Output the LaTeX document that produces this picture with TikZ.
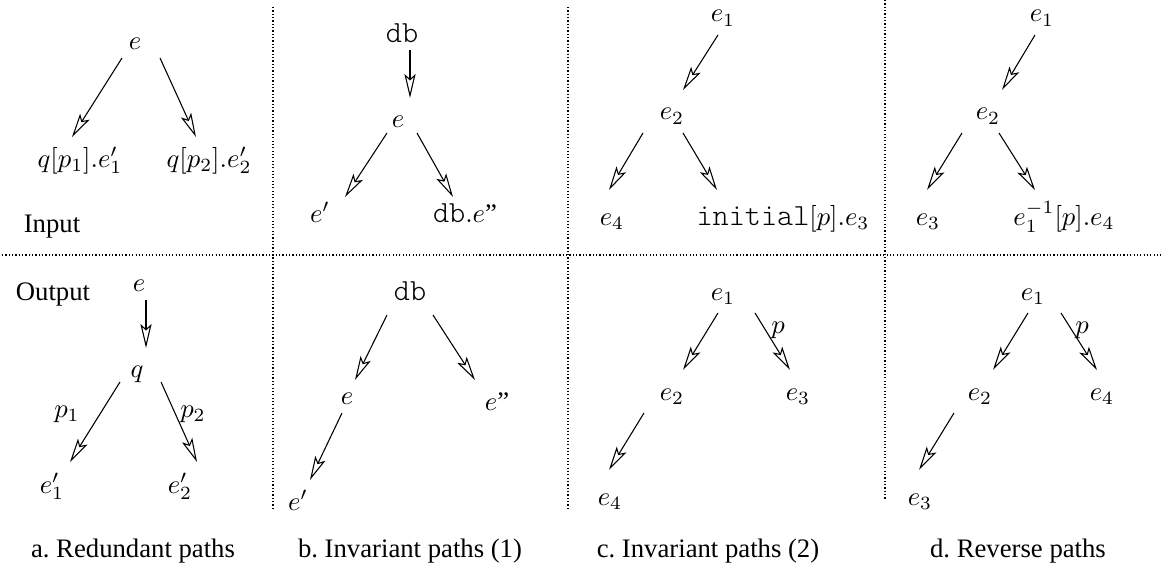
\documentclass[tikz,border=0pt]{standalone}
\usepackage{fontspec}
\setmainfont{Liberation Serif}
\setmonofont{lmmonolt10-regular.otf}[Scale=1.15]
\usetikzlibrary{arrows.meta}
\tikzset{
  lbl/.style={inner sep=0pt, anchor=base, font=\fontsize{10pt}{12pt}\selectfont},
  arr/.style={line width=0.4pt, -{Stealth[open, length=9pt, width=4.2pt, inset=1.9pt]}},
  sep/.style={line width=0.45pt, dash pattern=on 0.45pt off 0.8pt},
}
\begin{document}
\begin{tikzpicture}[x=0.3745pt, y=-0.3745pt]
\useasboundingbox (0,0) rectangle (1164,565);

% separators
\coordinate (hl) at (2,255);
\coordinate (hr) at (1164,255);
\coordinate (v1t) at (273,7);
\coordinate (v1b) at (273,508);
\coordinate (v2t) at (568,7);
\coordinate (v2b) at (568,508);
\coordinate (v3t) at (885,0);
\coordinate (v3b) at (885,500);
\draw[sep] (hl) -- (hr);
\draw[sep] (v1t) -- (v1b);
\draw[sep] (v2t) -- (v2b);
\draw[sep] (v3t) -- (v3b);

% ---------- panel a, input ----------
\node[lbl] (aE)  at (135,50)  {$e$};
\node[lbl] (aQ1) at (80,167)  {$q[p_1].e'_1$};
\node[lbl] (aQ2) at (209,167) {$q[p_2].e'_2$};
\node[lbl] (inp) at (52,232)  {Input};
\draw[arr] ([shift={(-13,8)}]aE.base) -- ([shift={(-8,-30)}]aQ1.base);
\draw[arr] ([shift={(25,8)}]aE.base) -- ([shift={(-13,-30)}]aQ2.base);

% ---------- panel b, input ----------
\node[lbl] (bDB) at (402,43)  {\texttt{db}};
\node[lbl] (bE)  at (398,127) {$e$};
\node[lbl] (bE1) at (320,222) {$e'$};
\node[lbl] (bE2) at (465,222) {\texttt{db}$.e$''};
\draw[arr] ([shift={(8,7)}]bDB.base) -- ([shift={(12,-29)}]bE.base);
\draw[arr] ([shift={(-11,6)}]bE.base) -- ([shift={(25,-25)}]bE1.base);
\draw[arr] ([shift={(19,6)}]bE.base) -- ([shift={(-12,-25)}]bE2.base);

% ---------- panel c, input ----------
\node[lbl] (cE1) at (723,22)  {$e_1$};
\node[lbl] (cE2) at (672,120) {$e_2$};
\node[lbl] (cE4) at (612,225) {$e_4$};
\node[lbl] (cI)  at (783,225) {$\texttt{initial}[p].e_3$};
\draw[arr] ([shift={(-5,13)}]cE1.base) -- ([shift={(11,-30)}]cE2.base);
\draw[arr] ([shift={(-29,13)}]cE2.base) -- ([shift={(-3,-35)}]cE4.base);
\draw[arr] ([shift={(11,13)}]cE2.base) -- ([shift={(-66,-35)}]cI.base);

% ---------- panel d, input ----------
\node[lbl] (dE1) at (1042,22)  {$e_1$};
\node[lbl] (dE2) at (988,120)  {$e_2$};
\node[lbl] (dE3) at (928,225)  {$e_3$};
\node[lbl] (dR)  at (1064,225) {$e_1^{-1}[p].e_4$};
\draw[arr] ([shift={(-7,13)}]dE1.base) -- ([shift={(14,-30)}]dE2.base);
\draw[arr] ([shift={(-26,13)}]dE2.base) -- ([shift={(-1,-35)}]dE3.base);
\draw[arr] ([shift={(11,13)}]dE2.base) -- ([shift={(-29,-35)}]dR.base);

% ---------- panel a, output ----------
\node[lbl] (outp) at (53,300)  {Output};
\node[lbl] (aoE)  at (139,291) {$e$};
\node[lbl] (aoQ)  at (137,377) {$q$};
\node[lbl] (aoP1) at (67,417)  {$p_1$};
\node[lbl] (aoP2) at (193,417) {$p_2$};
\node[lbl] (aoE1) at (52,493)  {$e'_1$};
\node[lbl] (aoE2) at (180,493) {$e'_2$};
\node[lbl] (capA) at (133,557) {a.\ Redundant paths};
\draw[arr] ([shift={(7,9)}]aoE.base) -- ([shift={(9,-29)}]aoQ.base);
\draw[arr] ([shift={(-17,5)}]aoQ.base) -- ([shift={(18,-31)}]aoE1.base);
\draw[arr] ([shift={(24,5)}]aoQ.base) -- ([shift={(17,-31)}]aoE2.base);

% ---------- panel b, output ----------
\node[lbl] (boDB) at (410,300) {\texttt{db}};
\node[lbl] (boE)  at (347,405) {$e$};
\node[lbl] (boE2) at (497,410) {$e$''};
\node[lbl] (boE1) at (298,510) {$e'$};
\node[lbl] (capB) at (410,557) {b.\ Invariant paths (1)};
\draw[arr] ([shift={(-23,15)}]boDB.base) -- ([shift={(8,-25)}]boE.base);
\draw[arr] ([shift={(23,15)}]boDB.base) -- ([shift={(-22,-30)}]boE2.base);
\draw[arr] ([shift={(-5,8)}]boE.base) -- ([shift={(12,-30)}]boE1.base);

% ---------- panel c, output ----------
\node[lbl] (coE1) at (723,300) {$e_1$};
\node[lbl] (coP)  at (778,333) {$p$};
\node[lbl] (coE2) at (672,400) {$e_2$};
\node[lbl] (coE3) at (798,400) {$e_3$};
\node[lbl] (coE4) at (610,505) {$e_4$};
\node[lbl] (capC) at (708,557) {c.\ Invariant paths (2)};
\draw[arr] ([shift={(-5,13)}]coE1.base) -- ([shift={(11,-30)}]coE2.base);
\draw[arr] ([shift={(32,13)}]coE1.base) -- ([shift={(-8,-30)}]coE3.base);
\draw[arr] ([shift={(-28,13)}]coE2.base) -- ([shift={(-1,-35)}]coE4.base);

% ---------- panel d, output ----------
\node[lbl] (doE1) at (1033,300) {$e_1$};
\node[lbl] (doP)  at (1082,333) {$p$};
\node[lbl] (doE2) at (980,400)  {$e_2$};
\node[lbl] (doE4) at (1102,400) {$e_4$};
\node[lbl] (doE3) at (920,505)  {$e_3$};
\node[lbl] (capD) at (1018,557) {d.\ Reverse paths};
\draw[arr] ([shift={(-5,13)}]doE1.base) -- ([shift={(13,-30)}]doE2.base);
\draw[arr] ([shift={(28,13)}]doE1.base) -- ([shift={(-5,-30)}]doE4.base);
\draw[arr] ([shift={(-26,13)}]doE2.base) -- ([shift={(-1,-35)}]doE3.base);
\end{tikzpicture}
\end{document}
